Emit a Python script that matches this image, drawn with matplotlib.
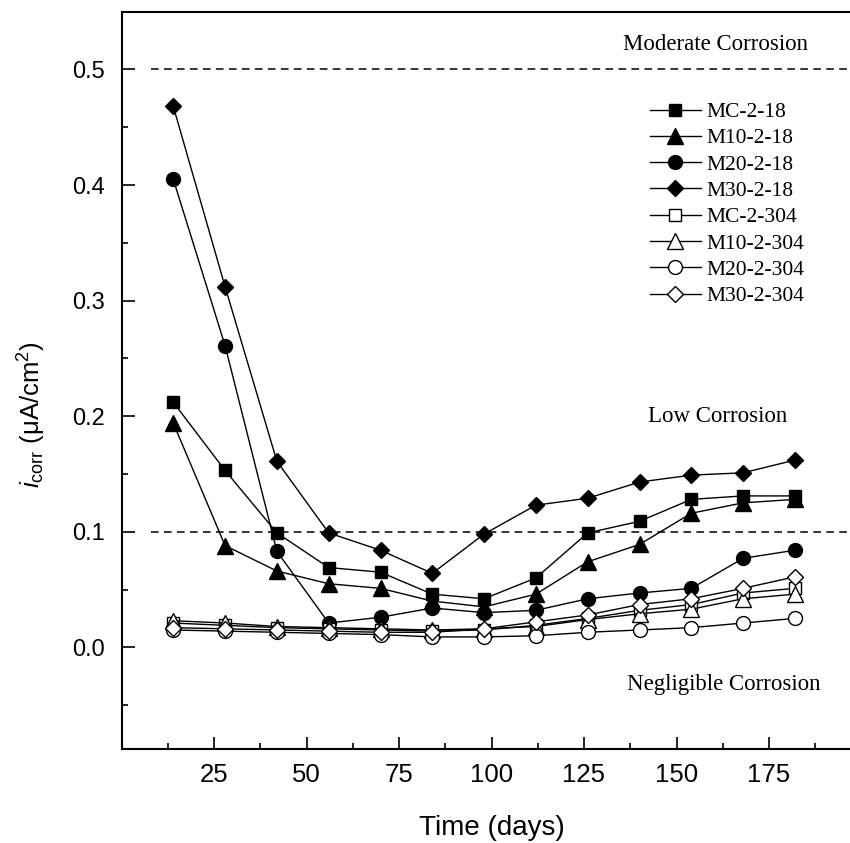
import numpy as np
import matplotlib
matplotlib.use('Agg')
import matplotlib.pyplot as plt
from matplotlib.ticker import MultipleLocator, FormatStrFormatter

# sampling days
days = [14, 28, 42, 56, 70, 84, 98, 112, 126, 140, 154, 168, 182]

# corrosion current density (uA/cm2)
mc_2_18 = [0.212, 0.153, 0.099, 0.069, 0.065, 0.046, 0.042, 0.060, 0.099, 0.109, 0.128, 0.131, 0.131]
m10_2_18 = [0.194, 0.088, 0.066, 0.055, 0.051, 0.040, 0.035, 0.046, 0.074, 0.089, 0.116, 0.125, 0.128]
m20_2_18 = [0.405, 0.261, 0.083, 0.021, 0.026, 0.034, 0.030, 0.032, 0.042, 0.047, 0.051, 0.077, 0.084]
m30_2_18 = [0.468, 0.312, 0.161, 0.099, 0.084, 0.064, 0.098, 0.123, 0.129, 0.143, 0.149, 0.151, 0.162]
mc_2_304 = [0.021, 0.019, 0.017, 0.016, 0.015, 0.014, 0.015, 0.019, 0.025, 0.032, 0.037, 0.047, 0.051]
m10_2_304 = [0.023, 0.021, 0.018, 0.017, 0.016, 0.015, 0.016, 0.018, 0.024, 0.029, 0.033, 0.042, 0.046]
m20_2_304 = [0.015, 0.014, 0.013, 0.012, 0.011, 0.009, 0.009, 0.010, 0.013, 0.015, 0.017, 0.021, 0.025]
m30_2_304 = [0.017, 0.016, 0.015, 0.014, 0.013, 0.013, 0.016, 0.022, 0.028, 0.037, 0.042, 0.051, 0.061]

series = [
    ('MC-2-18', mc_2_18, 's', 'black', 8.5),
    ('M10-2-18', m10_2_18, '^', 'black', 11.5),
    ('M20-2-18', m20_2_18, 'o', 'black', 10),
    ('M30-2-18', m30_2_18, 'D', 'black', 8.5),
    ('MC-2-304', mc_2_304, 's', 'white', 8.5),
    ('M10-2-304', m10_2_304, '^', 'white', 11.5),
    ('M20-2-304', m20_2_304, 'o', 'white', 10),
    ('M30-2-304', m30_2_304, 'D', 'white', 8.5),
]

# corrosion level thresholds
thresholds = [0.5, 0.1]
zones = [('Moderate Corrosion', 185.6, 0.522, 'right'),
         ('Low Corrosion', 161, 0.200, 'center'),
         ('Negligible Corrosion', 188.8, -0.032, 'right')]

serif = 'Liberation Serif'
sans = 'Liberation Sans'
plt.rcParams['mathtext.fontset'] = 'custom'
plt.rcParams['mathtext.rm'] = sans
plt.rcParams['mathtext.it'] = sans + ':italic'

W, H = 850, 843
fig = plt.figure(figsize=(W / 100, H / 100), dpi=100)
# right spine lies just outside the cropped picture
ax = fig.add_axes([121.5 / W, (H - 749) / H, (861.5 - 121.5) / W, (749 - 11.7) / H])

ax.hlines(thresholds, 8, 205, colors='black', linestyles=(0, (5, 3.5)), lw=1.1, zorder=1)

for label, vals, mk, fc, ms in series:
    ax.plot(days, vals, '-', color='black', lw=1.0, marker=mk, markersize=ms,
            markerfacecolor=fc, markeredgecolor='black', markeredgewidth=1.0,
            label=label, zorder=3)

for txt, x, y, ha in zones:
    ax.text(x, y, txt, ha=ha, va='center', fontsize=16.5, family=serif)

ax.set_xlim(0, 200)
ax.set_ylim(-0.088, 0.55)
ax.set_xticks([25, 50, 75, 100, 125, 150, 175])
ax.xaxis.set_minor_locator(MultipleLocator(12.5))
ax.yaxis.set_major_locator(MultipleLocator(0.1))
ax.yaxis.set_minor_locator(MultipleLocator(0.05))
ax.yaxis.set_major_formatter(FormatStrFormatter('%.1f'))

ax.tick_params(which='both', direction='in', top=False, right=False, width=1.2)
ax.tick_params(which='major', length=9)
ax.tick_params(which='minor', length=4.5)
ax.tick_params(axis='x', which='major', labelsize=18.5, pad=10)
ax.tick_params(axis='y', which='major', labelsize=17, pad=12)
for lab in ax.get_xticklabels() + ax.get_yticklabels():
    lab.set_family(sans)
for sp in ax.spines.values():
    sp.set_linewidth(1.5)

ax.set_xlabel('Time (days)', fontsize=20, family=sans, labelpad=20)
ax.set_ylabel('$i_{\\mathrm{corr}}$ (μA/cm$^{2}$)', fontsize=18.5, family=sans)
ax.yaxis.set_label_coords(-0.099, 0.453)

ax.legend(loc='upper left', bbox_to_anchor=(650 / W, 1 - 102 / H),
          bbox_transform=fig.transFigure, frameon=False,
          prop={'family': serif, 'size': 15.5}, handlelength=2.35,
          handletextpad=0.25, labelspacing=0.29, borderpad=0, borderaxespad=0)

fig.savefig('out.png', dpi=100)
